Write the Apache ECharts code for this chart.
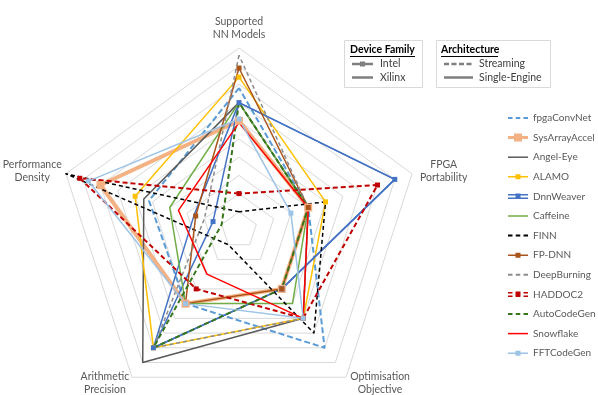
<!DOCTYPE html>
<html>
<head>
<meta charset="utf-8">
<script src="https://cdn.jsdelivr.net/npm/echarts@6/dist/echarts.min.js"></script>
<style>
html, body { margin: 0; padding: 0; background: #fff; }
#mychart { width: 598px; height: 395px; }
</style>
</head>
<body>
<div id="mychart"></div>
<script>
// radar axes, ECharts places them anticlockwise from the top
const axisNames = ['Supported\nNN Models', 'Performance\nDensity', 'Arithmetic\nPrecision', 'Optimisation\nObjective', 'FPGA\nPortability'];
const axisMax = 10;

// values in axis order: [SNM, PD, AP, OO, FP]
const fpgaConvNet   = [7.8, 5.2, 5, 8, 4];
const sysArrayAccel = [6, 8, 5, 4, 4];
const angelEye      = [7, 5.5, 9, 6, 4];
const alamo         = [8.4, 6, 8, 6, 5];
const dnnWeaverA    = [7, 1.5, 8, 4, 9];
const dnnWeaverB    = [7, 2.6, 8, 4, 9];
const caffeine      = [7, 4, 5, 5, 4];
const finn          = [1, 10, 1, 7, 5];
const fpDnn         = [8.9, 2.5, 5, 4, 4];
const deepBurning   = [9.6, 2, 8, 6, 4];
const haddoc2       = [2, 9.2, 4, 6, 8];
const autoCodeGen   = [7, 1, 8, 4, 4];
const snowflake     = [5.9, 3.5, 3, 6, 4];
const fftCodeGen    = [6.1, 8.7, 5, 6, 3];

const legendNames = ['fpgaConvNet', 'SysArrayAccel', 'Angel-Eye', 'ALAMO', 'DnnWeaver', 'Caffeine', 'FINN',
    'FP-DNN', 'DeepBurning', 'HADDOC2', 'AutoCodeGen', 'Snowflake', 'FFTCodeGen'];

const FONT = 'Lato';

// legend icons, all in a 20x10 box (the leading moves fix the box size)
const BOX = 'M0,0M20,10';
const icSolid = 'path://' + BOX + 'M0,4.25h20v1.5h-20z';
const icDash = 'path://' + BOX + 'M0,4h4.5v2h-4.5zM7.75,4h4.5v2h-4.5zM15.5,4h4.5v2h-4.5z';
const icMark = 'path://' + BOX + 'M0,4.25h20v1.5h-20zM7.5,2.5h5v5h-5z';
const icThick = 'path://' + BOX + 'M0,3.5h20v3h-20zM6,1h8v8h-8z';
const icDouble = 'path://' + BOX + 'M0,2.5h20v1.5h-20zM0,6h20v1.5h-20zM7.5,2.2h5v5h-5z';
const icDoubleDash = 'path://' + BOX + 'M0,2.5h4.5v1.5h-4.5zM7.75,2.5h4.5v1.5h-4.5zM15.5,2.5h4.5v1.5h-4.5zM0,6h4.5v1.5h-4.5zM7.75,6h4.5v1.5h-4.5zM15.5,6h4.5v1.5h-4.5zM7.5,2.2h5v5h-5z';
const legendIcons = [icDash, icThick, icSolid, icMark, icDouble, icSolid, icDash, icMark, icDash, icDoubleDash, icDash, icSolid, icMark];

// width of the centred box each axis name sits in
const nameBoxWidth = [70, 54, 46, 60, 50];

function radarSeries(name, value, color, width, dash, symbolSize) {
    return {
        type: 'radar',
        name: name,
        symbol: symbolSize ? 'rect' : 'none',
        symbolSize: symbolSize || 0,
        lineStyle: { color: color, width: width, type: dash || 'solid' },
        itemStyle: { color: color },
        emphasis: { disabled: true },
        data: [{ name: name, value: value }]
    };
}

const series = [
    radarSeries('fpgaConvNet', fpgaConvNet, '#5B9BD5', 2, [6, 3]),
    radarSeries('SysArrayAccel', sysArrayAccel, '#F4B183', 4, null, 8),
    radarSeries('Angel-Eye', angelEye, '#595959', 1.5),
    radarSeries('ALAMO', alamo, '#FFC000', 1.5, null, 5),
    radarSeries('DnnWeaver', dnnWeaverA, '#4472C4', 1.5, null, 5),
    radarSeries('DnnWeaver', dnnWeaverB, '#4472C4', 1.5),
    radarSeries('Caffeine', caffeine, '#70AD47', 1.5),
    radarSeries('FINN', finn, '#000000', 1.5, [4, 3]),
    radarSeries('FP-DNN', fpDnn, '#A9541A', 1.5, null, 5),
    radarSeries('DeepBurning', deepBurning, '#8C8C8C', 1.5, [4, 3]),
    radarSeries('HADDOC2', haddoc2, '#C00000', 2, [5, 3], 5),
    radarSeries('AutoCodeGen', autoCodeGen, '#38761D', 2, [5, 3]),
    radarSeries('Snowflake', snowflake, '#FF0000', 1.5),
    radarSeries('FFTCodeGen', fftCodeGen, '#9DC3E6', 1.5, null, 5)
];

// rich styles so that the two lines of each axis name are centred
const nameRich = {};
nameBoxWidth.forEach((w, i) => {
    nameRich['a' + i] = { width: w, align: 'center', color: '#595959', fontSize: 10.5, fontFamily: FONT, lineHeight: 13 };
});
function nameFormatter(name) {
    const i = axisNames.indexOf(name);
    return name.split('\n').map(s => '{a' + i + '|' + s + '}').join('\n');
}

// the two little "key" boxes at the top
const keyGrey = '#7F7F7F';
function keyLine(x1, x2, y, dash) {
    return { type: 'line', shape: { x1: x1, y1: y, x2: x2, y2: y }, style: { stroke: keyGrey, lineWidth: 2.5, lineDash: dash || null } };
}
function keyLabel(x, y, text, bold) {
    return {
        type: 'text', x: x, y: y,
        style: { text: text, fontSize: 10.5, fontFamily: FONT, verticalAlign: 'middle', fontWeight: bold ? 'bold' : 'normal', fill: bold ? '#000' : '#404040' }
    };
}
const keyGraphics = [
    { type: 'rect', shape: { x: 344.5, y: 40.5, width: 78, height: 47 }, style: { fill: '#fff', stroke: '#D9D9D9', lineWidth: 1 } },
    keyLabel(350, 50, 'Device Family', true),
    { type: 'line', shape: { x1: 350, y1: 56.5, x2: 415, y2: 56.5 }, style: { stroke: '#000', lineWidth: 1 } },
    keyLine(352, 373, 64),
    { type: 'rect', shape: { x: 360, y: 61.5, width: 5, height: 5 }, style: { fill: keyGrey } },
    keyLabel(380, 64, 'Intel'),
    keyLine(352, 373, 77.5),
    keyLabel(380, 77.5, 'Xilinx'),

    { type: 'rect', shape: { x: 436.5, y: 40.5, width: 114, height: 47 }, style: { fill: '#fff', stroke: '#D9D9D9', lineWidth: 1 } },
    keyLabel(441, 50, 'Architecture', true),
    { type: 'line', shape: { x1: 441, y1: 56.5, x2: 498, y2: 56.5 }, style: { stroke: '#000', lineWidth: 1 } },
    keyLine(444, 473, 64, [5, 2.5]),
    keyLabel(479, 64, 'Streaming'),
    keyLine(444, 473, 77.5),
    keyLabel(479, 77.5, 'Single-Engine')
];

const myChart = echarts.init(document.getElementById('mychart'), null, { renderer: 'canvas' });
myChart.setOption({
    backgroundColor: '#fff',
    animation: false,
    legend: {
        orient: 'vertical',
        left: 503,
        top: 106,
        itemWidth: 20,
        itemHeight: 10,
        itemGap: 5.6,
        selectedMode: false,
        itemStyle: { borderWidth: 0 },
        textStyle: { color: '#595959', fontSize: 10, fontFamily: FONT, lineHeight: 14 },
        data: legendNames.map((n, i) => ({ name: n, icon: legendIcons[i] }))
    },
    radar: {
        center: [239, 230],
        radius: 182,
        startAngle: 90,
        shape: 'polygon',
        splitNumber: 10,
        nameGap: 7,
        axisName: { formatter: nameFormatter, rich: nameRich, color: '#595959', fontSize: 10.5, fontFamily: FONT, lineHeight: 13 },
        axisLine: { show: false },
        axisTick: { show: false },
        axisLabel: { show: false },
        splitLine: { lineStyle: { color: '#D9D9D9', width: 1 } },
        splitArea: { show: false },
        indicator: axisNames.map(n => ({ name: n, min: 0, max: axisMax }))
    },
    graphic: keyGraphics,
    series: series
});
window.addEventListener('resize', () => myChart.resize());
</script>
</body>
</html>
